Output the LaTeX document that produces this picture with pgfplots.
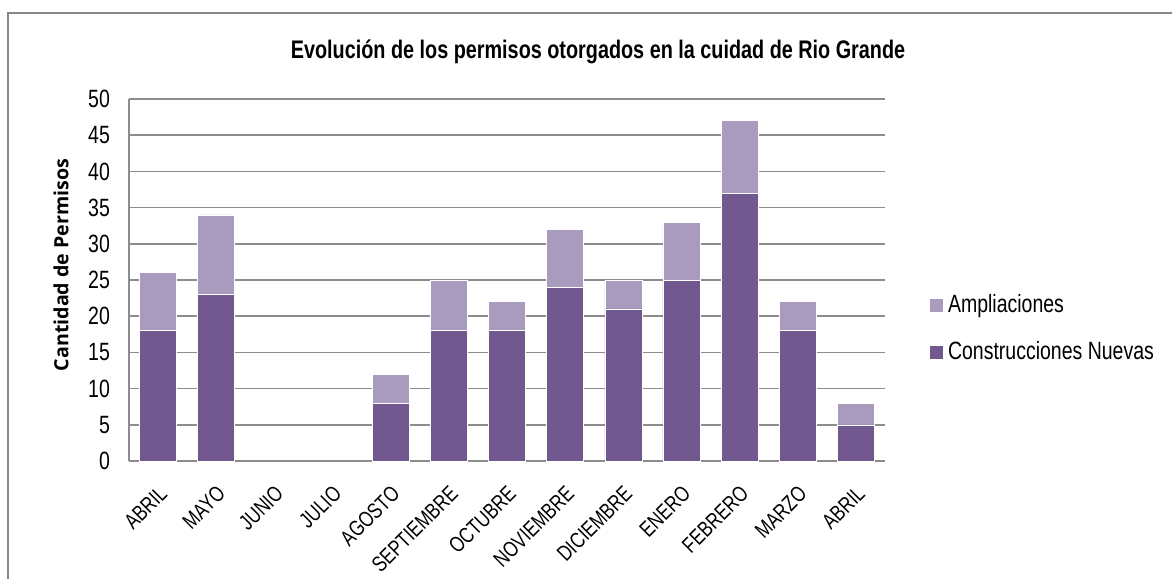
\documentclass[border=0pt]{standalone}
\usepackage{pgfplots}
\pgfplotsset{compat=1.18}
\usepackage{fontspec}
\setmainfont[FakeStretch=0.78]{Liberation Sans}
\newfontfamily\labfont{Open Sans}

\definecolor{nuevas}{RGB}{113,88,143}
\definecolor{ampl}{RGB}{169,155,189}
\definecolor{gridgray}{RGB}{140,140,140}
\definecolor{framegray}{RGB}{135,135,135}

\begin{document}
\begin{tikzpicture}
% picture box: 1px = 0.5pt, axis lower left corner at pixel (129,461)
\path[use as bounding box] (-64.5pt,-58.5pt) rectangle (521.5pt,230.5pt);
\draw[framegray, line width=1pt] (-60.5pt,-70pt) -- (-60.5pt,224pt) -- (540pt,224pt);

\begin{axis}[
    at={(0,0)}, anchor=south west,
    scale only axis,
    width=378pt, height=181pt,
    ybar stacked,
    bar width=18.5pt,
    xmin=-0.5, xmax=12.5,
    ymin=0, ymax=50,
    ytick={0,5,...,50},
    xtick={0,...,12},
    xticklabels={ABRIL,MAYO,JUNIO,JULIO,AGOSTO,SEPTIEMBRE,OCTUBRE,NOVIEMBRE,DICIEMBRE,ENERO,FEBRERO,MARZO,ABRIL},
    x tick label style={rotate=45, anchor=east, font=\fontsize{11}{12}\selectfont, xshift=-5pt, yshift=-12pt},
    y tick label style={font=\fontsize{12.5}{14}\selectfont},
    /pgf/number format/assume math mode=true,
    major tick length=0pt,
    axis x line*=bottom,
    axis y line*=left,
    axis line style={gridgray, line width=0.8pt, -},
    ymajorgrids,
    grid style={gridgray, line width=0.8pt},
    yticklabel style={xshift=-6pt},
    reverse legend,
    legend cell align=left,
    legend style={draw=none, fill=none, at={(axis description cs:1,0.365)}, anchor=west,
        xshift=19pt, font=\fontsize{12.5}{14}\selectfont, row sep=9pt},
    legend image code/.code={\fill[#1] (0pt,-3.5pt) rectangle (7pt,3.5pt);},
]
\addplot[fill=nuevas, draw=white, line width=0.3pt] coordinates {
(0,18) (1,23) (2,0) (3,0) (4,8) (5,18) (6,18) (7,24) (8,21) (9,25) (10,37) (11,18) (12,5)};
\addplot[fill=ampl, draw=white, line width=0.3pt] coordinates {
(0,8) (1,11) (2,0) (3,0) (4,4) (5,7) (6,4) (7,8) (8,4) (9,8) (10,10) (11,4) (12,3)};
\legend{Construcciones Nuevas, Ampliaciones}
\end{axis}

\node[font=\bfseries\fontsize{12.7}{14}\selectfont] at (234.5pt,204.5pt)
    {Evolución de los permisos otorgados en la cuidad de Rio Grande};
\node[rotate=90, font=\labfont\bfseries\fontsize{9.8}{12}\selectfont] at (-34pt,98pt)
    {Cantidad de Permisos};
\end{tikzpicture}
\end{document}
